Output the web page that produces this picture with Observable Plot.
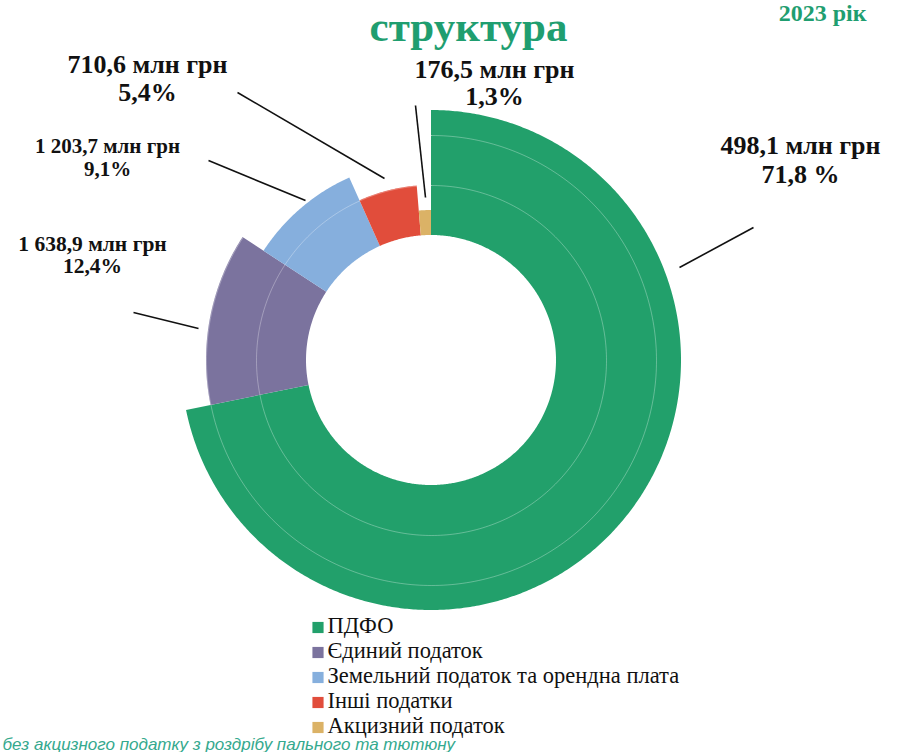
<!DOCTYPE html>
<html><head><meta charset="utf-8">
<script src="https://cdn.jsdelivr.net/npm/d3@7"></script>
<script src="https://cdn.jsdelivr.net/npm/@observablehq/plot@0.6"></script>
<style>body{margin:0;background:#fff;overflow:hidden}</style>
</head><body><div id="chart"></div>
<script>
// ---- data ----
const categories = ["ПДФО", "Єдиний податок", "Земельний податок та орендна плата", "Інші податки", "Акцизний податок"];
const amountLabels = ["498,1 млн грн", "1 638,9 млн грн", "1 203,7 млн грн", "710,6 млн грн", "176,5 млн грн"];
const shares = [71.8, 12.4, 9.1, 5.4, 1.3];
const shareLabels = ["71,8 %", "12,4%", "9,1%", "5,4%", "1,3%"];
const titleText = "структура";
const yearText = "2023 рік";
const footnote = "без акцизного податку з роздрібу пального та тютюну";

// ---- styles / layout ----
const colors = ["#22a06b", "#7b739e", "#86afdd", "#e14d3b", "#dbb266"];
const W = 899, H = 752;
const cx = 431, cy = 360, rInner = 125;
// outer radius by rank of share (smallest -> 150, largest -> 250)
const order = shares.map((s, i) => i).sort((a, b) => shares[a] - shares[b]);
const rank = new Array(shares.length);
order.forEach((idx, k) => rank[idx] = k);
const rScale = d3.scaleLinear().domain([0, shares.length - 1]).range([150, 250]);

const total = d3.sum(shares);
const aScale = d3.scaleLinear().domain([0, total]).range([0, 2 * Math.PI]);
let cum = 0;
const wedgePts = [];
shares.forEach((s, i) => {
  const a0 = aScale(cum), a1 = aScale(cum + s);
  cum += s;
  const n = Math.max(2, Math.ceil((a1 - a0) / (Math.PI / 360)));
  const rO = rScale(rank[i]);
  for (let k = 0; k <= n; k++) {
    const a = a0 + (a1 - a0) * k / n;
    wedgePts.push({
      cat: categories[i],
      xi: cx + rInner * Math.sin(a), yi: cy - rInner * Math.cos(a),
      xo: cx + rO * Math.sin(a), yo: cy - rO * Math.cos(a)
    });
  }
});

// faint reference rings
const rings = [];
[175, 225].forEach(r => {
  for (let k = 0; k <= 360; k++) {
    const a = k * Math.PI / 180;
    rings.push({r, x: cx + r * Math.sin(a), y: cy - r * Math.cos(a)});
  }
});

// label layout (annotation positions)
const labelLayout = [
  {x: 800, y: 153, gap: 29, size: 26, lx1: 753, ly1: 227, lx2: 679, ly2: 267},
  {x: 92, y: 250, gap: 22, size: 21.5, lx1: 133, ly1: 312, lx2: 198, ly2: 328},
  {x: 107, y: 152, gap: 23, size: 21, lx1: 208, ly1: 160, lx2: 305, ly2: 200},
  {x: 147, y: 72, gap: 28, size: 26, lx1: 237, ly1: 92, lx2: 384, ly2: 178},
  {x: 494, y: 77, gap: 27, size: 26, lx1: 415, ly1: 105, lx2: 425, ly2: 197}
];
const labels = labelLayout.map((l, i) => ({...l, amount: amountLabels[i], share: shareLabels[i]}));
const legendRows = categories.map((c, i) => ({cat: c, y: 632 + i * 25}));

const serif = "'Liberation Serif', 'Times New Roman', serif";
const textMarks = [];
labels.forEach(l => {
  textMarks.push(Plot.text([l], {x: "x", y: "y", text: "amount", lineAnchor: "bottom", fontSize: l.size, fontWeight: "bold", fontFamily: serif, fill: "#111"}));
  textMarks.push(Plot.text([l], {x: "x", y: d => d.y + d.gap, text: "share", lineAnchor: "bottom", fontSize: l.size, fontWeight: "bold", fontFamily: serif, fill: "#111"}));
});

const chart = Plot.plot({
  width: W, height: H,
  margin: 0,
  x: {domain: [0, W], range: [0, W], axis: null},
  y: {domain: [0, H], range: [0, H], axis: null},
  color: {domain: categories, range: colors},
  style: {background: "#fff"},
  marks: [
    Plot.area(wedgePts, {x1: "xi", y1: "yi", x2: "xo", y2: "yo", z: "cat", fill: "cat"}),
    Plot.line(rings, {x: "x", y: "y", z: "r", stroke: "#fff", strokeOpacity: 0.3, strokeWidth: 1}),
    Plot.link(labels, {x1: "lx1", y1: "ly1", x2: "lx2", y2: "ly2", stroke: "#111", strokeWidth: 1.6}),
    ...textMarks,
    Plot.text([titleText], {x: 468, y: 40, text: d => d, lineAnchor: "bottom", fontSize: 43, fontWeight: "bold", fontFamily: serif, fill: "#1f9e70"}),
    Plot.text([yearText], {x: 866, y: 20, text: d => d, lineAnchor: "bottom", textAnchor: "end", fontSize: 24, fontWeight: "bold", fontFamily: serif, fill: "#1f9e70"}),
    Plot.dot(legendRows, {x: 317.5, y: d => d.y - 5, symbol: "square", r: 6.3, fill: "cat"}),
    Plot.text(legendRows, {x: 327, y: "y", text: "cat", lineAnchor: "bottom", textAnchor: "start", fontSize: 22.5, fontFamily: serif, fill: "#111"}),
    Plot.text([footnote], {x: 2, y: 749, text: d => d, lineAnchor: "bottom", textAnchor: "start", fontSize: 17, fontStyle: "italic", fontFamily: "'Liberation Sans', Arial, sans-serif", fill: "#35a98e"})
  ]
});
document.getElementById("chart").append(chart);
</script>
</body></html>
